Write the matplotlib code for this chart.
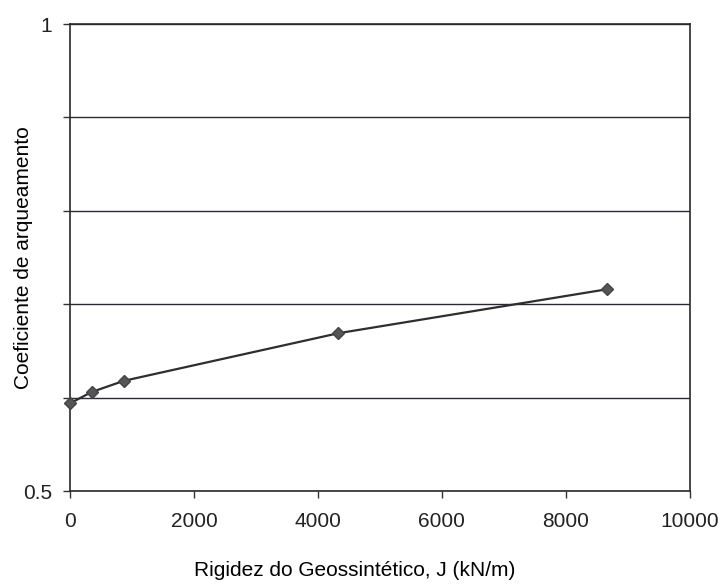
import matplotlib
matplotlib.use("Agg")
import matplotlib.pyplot as plt

plt.rcParams["font.family"] = ["Liberation Sans", "DejaVu Sans"]

# Rigidez do geossintetico J (kN/m) vs coeficiente de arqueamento
stiffness = [0, 346, 866, 4330, 8660]
arching = [0.594, 0.606, 0.618, 0.669, 0.716]

x_ticks = [0, 2000, 4000, 6000, 8000, 10000]
y_ticks = [0.5, 0.6, 0.7, 0.8, 0.9, 1.0]
y_tick_labels = ["0.5", "", "", "", "", "1"]

fig = plt.figure(figsize=(7.23, 5.86), dpi=100)
ax = fig.add_axes([0.097, 0.162, 0.857, 0.797])

ax.plot(stiffness, arching, color="#2e2e2e", linewidth=1.6, marker="D",
        markersize=6, markerfacecolor="#555555", markeredgecolor="#444444",
        zorder=3, clip_on=False)

ax.set_xlim(0, 10000)
ax.set_ylim(0.5, 1.0)
ax.set_xticks(x_ticks)
ax.set_yticks(y_ticks)
ax.set_yticklabels(y_tick_labels)
ax.yaxis.grid(True, color="#2a2a35", linewidth=1.0)
ax.set_axisbelow(True)

for side in ["left", "right", "top", "bottom"]:
    ax.spines[side].set_color("#2a2a2a")
    ax.spines[side].set_linewidth(1.2)

ax.tick_params(axis="both", direction="out", length=5, width=1,
               color="#333333", labelsize=15, labelcolor="#222222")
ax.tick_params(axis="x", pad=10)
ax.tick_params(axis="y", pad=8)

ax.set_xlabel("Rigidez do Geossintético, J (kN/m)", fontsize=15)
ax.xaxis.set_label_coords(0.460, -0.150)
ax.set_ylabel("Coeficiente de arqueamento", fontsize=15)
ax.yaxis.set_label_coords(-0.060, 0.5)

fig.savefig("out.png", dpi=100, facecolor="white")
